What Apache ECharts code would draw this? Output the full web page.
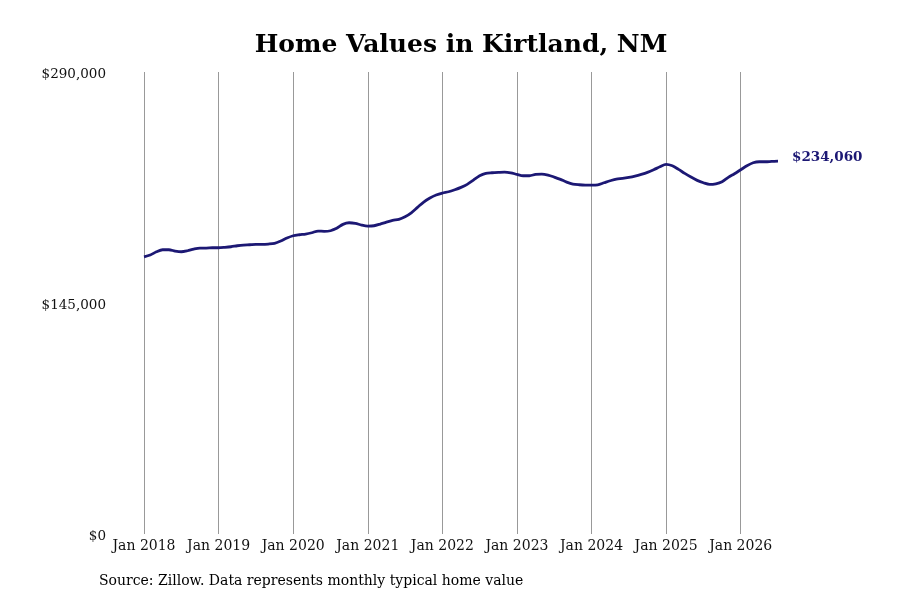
<!DOCTYPE html>
<html>
<head>
<meta charset="utf-8">
<script src="https://cdn.jsdelivr.net/npm/echarts@6/dist/echarts.min.js"></script>
<style>html,body{margin:0;padding:0;background:#fff;}#c{width:900px;height:600px;}</style>
</head>
<body>
<div id="c"></div>
<script>
const monthNames = ['Jan','Feb','Mar','Apr','May','Jun','Jul','Aug','Sep','Oct','Nov','Dec'];
const startYear = 2018;
const homeValues = [
  174000,175100,177170,178420,178420,177610,177170,177800,178860,179490,179490,179680,
  179680,179930,180310,180930,181370,181560,181810,181810,182000,182440,183880,185770,
  187210,187840,188280,189090,190160,189970,190350,191850,194360,195370,194990,193920,
  193300,193490,194550,195810,196870,197500,199130,201640,205030,208360,210870,212750,
  214000,214820,216080,217580,219470,222160,224860,226370,226750,227000,227190,226750,
  225740,224860,224860,225740,225930,225300,224050,222600,220910,219660,219220,219030,
  219030,219220,220470,221730,222790,223230,223860,224680,225740,227000,228630,230510,
  232020,231140,228880,226370,224050,221980,220470,219470,219850,221100,223860,226120,
  228630,231140,233020,233650,233650,233900,234060
];
const months = homeValues.map((v, i) => monthNames[i % 12] + ' ' + (startYear + Math.floor(i / 12)));
const yTicks = [0, 145000, 290000];
const titleText = 'Home Values in Kirtland, NM';
const sourceText = 'Source: Zillow. Data represents monthly typical home value';
const endLabelText = '$234,060';

const fmt = v => '{a|$' + v.toLocaleString('en-US') + '}';
const font = 'DejaVu Serif';
const lineColor = '#1c1874';

const chart = echarts.init(document.getElementById('c'));
chart.setOption({
  animation: false,
  backgroundColor: '#fff',
  title: {
    text: titleText,
    left: 456,
    top: 28,
    textAlign: 'center',
    textStyle: { fontFamily: font, fontWeight: 'bold', fontSize: 25, color: '#000' }
  },
  graphic: [{
    type: 'text',
    left: 99,
    top: 574,
    style: { text: sourceText, fontFamily: font, fontSize: 14, fill: '#000' }
  }],
  grid: { left: 144, right: 122, top: 72, bottom: 66, containLabel: false },
  xAxis: {
    type: 'category',
    data: months,
    boundaryGap: false,
    axisLine: { show: false },
    axisTick: { show: false },
    axisLabel: {
      interval: (i) => i % 12 === 0,
      fontFamily: font, fontSize: 14, color: '#111', margin: 5
    },
    splitLine: {
      show: true,
      interval: (i) => i % 12 === 0,
      lineStyle: { color: '#999', width: 1 }
    }
  },
  yAxis: {
    type: 'value',
    min: yTicks[0],
    max: yTicks[yTicks.length - 1],
    interval: yTicks[1] - yTicks[0],
    axisLine: { show: false },
    axisTick: { show: false },
    splitLine: { show: false },
    axisLabel: {
      formatter: fmt,
      margin: 38,
      rich: {
        a: { fontFamily: font, fontSize: 13.5, color: '#111', padding: [4, 0, 0, 0] }
      }
    }
  },
  series: [{
    type: 'line',
    data: homeValues,
    smooth: 0.3,
    symbol: 'none',
    lineStyle: { color: lineColor, width: 2.8 },
    endLabel: {
      show: true,
      formatter: () => endLabelText,
      distance: 14,
      offset: [0, -4],
      fontFamily: font, fontWeight: 'bold', fontSize: 13.5, color: lineColor
    }
  }]
});
</script>
</body>
</html>
